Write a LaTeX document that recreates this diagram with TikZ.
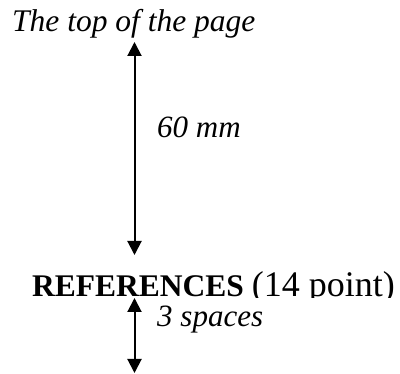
\documentclass[tikz,border=0pt]{standalone}
\usepackage{fontspec}
\setmainfont{Liberation Serif}
\usetikzlibrary{arrows.meta}
\tikzset{
  lbl/.style={inner sep=0pt, anchor=base west, font=\fontsize{31}{36}\selectfont\itshape},
  dim/.style={line width=2pt, {Triangle[length=14pt,width=14pt]}-{Triangle[length=14pt,width=14pt]}}
}
\begin{document}
\begin{tikzpicture}[x=1pt,y=-1pt]
\useasboundingbox (0,0) rectangle (400,374);
\node[lbl, font=\fontsize{31.5}{36}\selectfont\itshape] (title) at (12,32) {The top of the page};
\node[lbl] (mm) at (157,138) {60 mm};
\begin{scope}
  \clip (0,250) rectangle (400,298);
  \node[inner sep=0pt, anchor=base west] (ref) at (32,297)
    {\fontsize{31.5}{36}\selectfont\bfseries REFERENCES {\mdseries\fontsize{36}{40}\selectfont(14 point)}};
\end{scope}
\node[lbl] (sp) at (157,327) {3 spaces};
\coordinate (a1t) at (134.5,42);
\coordinate (a1b) at (134.5,255);
\coordinate (a2t) at (134.5,298);
\coordinate (a2b) at (134.5,373);
\draw[dim] (a1t) -- (a1b);
\draw[dim] (a2t) -- (a2b);
\end{tikzpicture}
\end{document}
